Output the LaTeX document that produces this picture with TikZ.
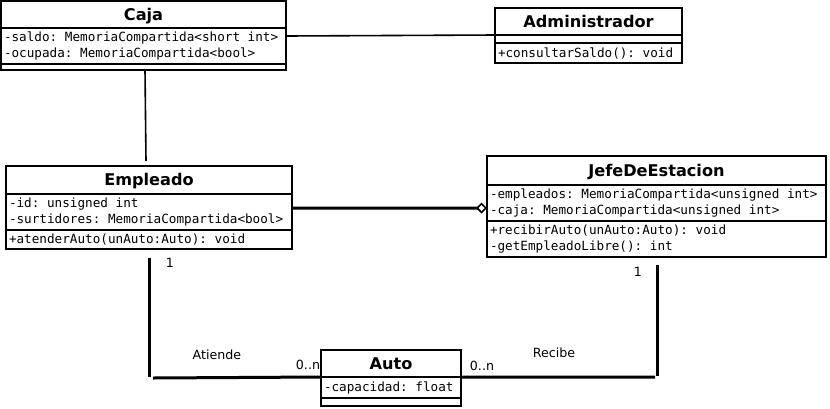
\documentclass[tikz,border=0pt]{standalone}
\usepackage{fontspec}
\setmainfont{DejaVu Sans}
\setmonofont{DejaVu Sans Mono}
\usetikzlibrary{calc,arrows.meta}

\newcommand{\clsname}{\fontsize{16.2}{18}\selectfont\bfseries}
\newcommand{\clsmemb}{\fontsize{12.7}{16.5}\selectfont\ttfamily}
\newcommand{\asslbl}{\fontsize{12.7}{15}\selectfont}
\newcommand{\tsp}{\hphantom{x}}

\tikzset{
	box/.style={draw, line width=1.8bp, anchor=north west, inner sep=0pt, outer sep=0pt},
	clstitle/.style={box, font=\clsname, text height=11.5bp, text depth=0pt},
	clsmembers/.style={box, font=\clsmemb, align=left, inner xsep=3bp},
	thinlink/.style={line width=1.6bp},
	thicklink/.style={line width=3bp},
	asstext/.style={font=\asslbl, inner sep=0pt}
}

\begin{document}
\begin{tikzpicture}[x=1bp, y=-1bp]
		%%%%% START %%%%%
		\useasboundingbox (0, 0) rectangle (830, 408);
		
		% Caja
		\node[clstitle, minimum width=285bp, minimum height=27bp] (caja) at (1, 1) {Caja};
		\node[clsmembers, text width=279bp, minimum height=36bp] (caja-a) at (caja.south west) {-saldo:\tsp MemoriaCompartida<short\tsp int>\\-ocupada:\tsp MemoriaCompartida<bool>};
		\node[clsmembers, text width=279bp, minimum height=6bp] (caja-m) at (caja-a.south west) {};
		
		% Administrador
		\node[clstitle, minimum width=187bp, minimum height=27bp] (admin) at (495, 8) {Administrador};
		\node[clsmembers, text width=181bp, minimum height=8bp] (admin-a) at (admin.south west) {};
		\node[clsmembers, text width=181bp, minimum height=20bp] (admin-m) at (admin-a.south west) {+consultarSaldo():\tsp void};
		
		% Empleado
		\node[clstitle, minimum width=286bp, minimum height=28bp] (emp) at (6, 166) {Empleado};
		\node[clsmembers, text width=280bp, minimum height=36bp] (emp-a) at (emp.south west) {-id:\tsp unsigned\tsp int\\-surtidores:\tsp MemoriaCompartida<bool>};
		\node[clsmembers, text width=280bp, minimum height=19bp] (emp-m) at (emp-a.south west) {+atenderAuto(unAuto:Auto):\tsp void};
		
		% JefeDeEstacion
		\node[clstitle, minimum width=339bp, minimum height=29bp] (jefe) at (487, 156) {JefeDeEstacion};
		\node[clsmembers, text width=333bp, minimum height=36bp] (jefe-a) at (jefe.south west) {-empleados:\tsp MemoriaCompartida<unsigned\tsp int>\\-caja:\tsp MemoriaCompartida<unsigned\tsp int>};
		\node[clsmembers, text width=333bp, minimum height=36bp] (jefe-m) at (jefe-a.south west) {+recibirAuto(unAuto:Auto):\tsp void\\-getEmpleadoLibre():\tsp int};
		
		% Auto
		\node[clstitle, minimum width=140bp, minimum height=27bp] (auto) at (321, 350) {Auto};
		\node[clsmembers, text width=134bp, minimum height=21bp] (auto-a) at (auto.south west) {-capacidad:\tsp float};
		\node[clsmembers, text width=134bp, minimum height=8bp] (auto-m) at (auto-a.south west) {};
		
		% links
		\coordinate (cajaemp) at (146, 161);
		\draw[thinlink] ($(caja-a.north east)+(0, 8)$) -- (admin-a.north west);
		\draw[thinlink] ($(caja-m.south)+(1.5, 0)$) -- (cajaemp);
		\draw[thicklink, -{Diamond[open, length=11bp, width=11bp, line width=1.6bp]}] ($(emp-a.east)+(1, -4)$) -- ($(jefe-a.west)+(0, 5)$);
		
		\coordinate (atiende-a) at (149, 258);
		\coordinate (atiende-b) at (149, 377);
		\coordinate (atiende-c) at (153, 378);
		\draw[thicklink] (atiende-a) -- (atiende-b);
		\draw[thicklink] (atiende-c) -- (auto-a.north west);
		
		\coordinate (recibe-a) at (657, 265);
		\coordinate (recibe-b) at (657, 376);
		\coordinate (recibe-c) at (655, 377);
		\draw[thicklink] (auto-a.north east) -- (recibe-c);
		\draw[thicklink] (recibe-a) -- (recibe-b);
		
		\node[asstext] (atiende-one) at (170, 263) {1};
		\node[asstext] (atiende) at (217, 355) {Atiende};
		\node[asstext] (atiende-n) at (308, 365) {0..n};
		\node[asstext] (recibe-n) at (482, 366) {0..n};
		\node[asstext] (recibe) at (554, 353) {Recibe};
		\node[asstext] (recibe-one) at (638, 272) {1};
		
		%%%%% END %%%%%
	\end{tikzpicture}
\end{document}
